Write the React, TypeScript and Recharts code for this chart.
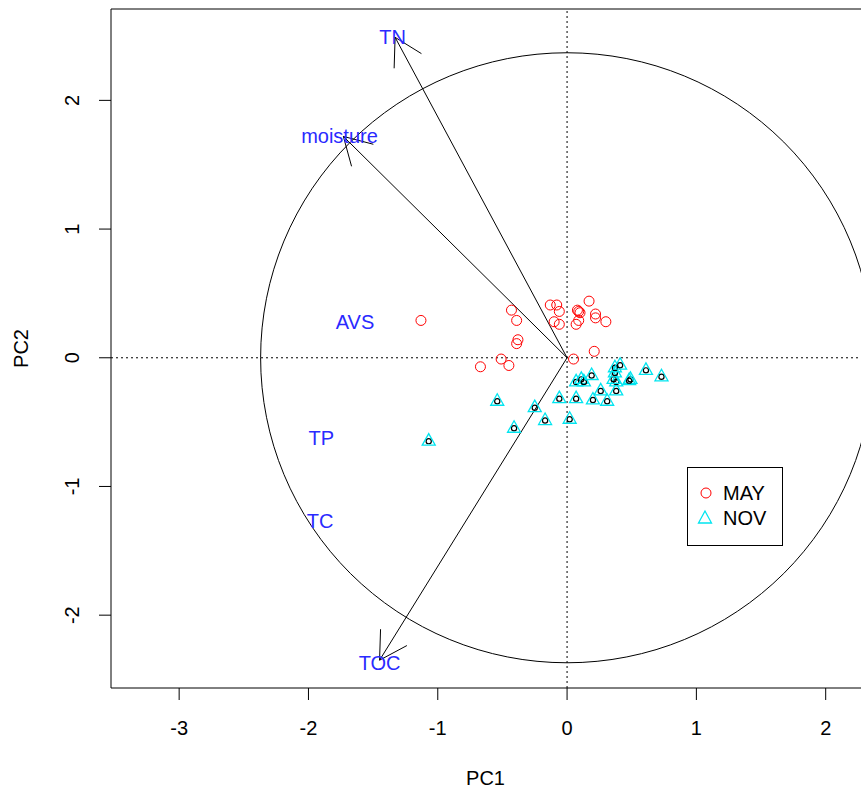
import {
  ReferenceDot,
  ReferenceLine,
  Scatter,
  ScatterChart,
  XAxis,
  YAxis,
} from "recharts";

// sample scores
const MAY_PC1 = [
  -1.13, -0.43, -0.39, -0.38, -0.39, -0.51, -0.67, -0.45, -0.13, -0.08, -0.06,
  -0.1, -0.06, 0.17, 0.08, 0.09, 0.1, 0.07, 0.09, 0.22, 0.22, 0.3, 0.21, 0.05,
];
const MAY_PC2 = [
  0.29, 0.37, 0.29, 0.14, 0.11, -0.01, -0.07, -0.06, 0.41, 0.41, 0.36, 0.28,
  0.26, 0.44, 0.37, 0.36, 0.35, 0.26, 0.29, 0.34, 0.31, 0.28, 0.05, -0.01,
];
const NOV_PC1 = [
  -1.07, -0.54, -0.25, -0.41, -0.17, -0.06, 0.02, 0.07, 0.11, 0.13, 0.19, 0.07,
  0.2, 0.26, 0.31, 0.38, 0.38, 0.36, 0.37, 0.37, 0.41, 0.49, 0.48, 0.61, 0.73,
];
const NOV_PC2 = [
  -0.64, -0.33, -0.38, -0.54, -0.48, -0.31, -0.47, -0.18, -0.16, -0.18, -0.13,
  -0.31, -0.32, -0.25, -0.33, -0.25, -0.18, -0.16, -0.11, -0.07, -0.05, -0.16,
  -0.17, -0.09, -0.14,
];

// variable arrows (tips) and label spots
const ARROW_NAMES = ["TN", "moisture", "TOC"];
const ARROW_PC1 = [-1.33, -1.73, -1.45];
const ARROW_PC2 = [2.49, 1.72, -2.35];
const LABEL_NAMES = ["TN", "moisture", "AVS", "TP", "TC", "TOC"];
const LABEL_PC1 = [-1.35, -1.76, -1.64, -1.9, -1.91, -1.45];
const LABEL_PC2 = [2.49, 1.72, 0.28, -0.62, -1.27, -2.37];

const CIRCLE_R = 2.37;
const X_TICKS = [-3, -2, -1, 0, 1, 2];
const Y_TICKS = [-2, -1, 0, 1, 2];

const XMIN = -3.527;
const XMAX = 2.273;
const YMIN = -2.566;
const YMAX = 2.71;

const W = 861;
const H = 796;
const LEFT = 111;
const TOP = 9;
const BOTTOM = 108;
const PLOT_W = W - LEFT;
const PLOT_H = H - TOP - BOTTOM;

const FONT = "'Liberation Sans', Arial, sans-serif";
const RED = "#FF0000";
const CYAN = "#00E5F0";
const BLUE = "#2a2aff";

const mayData = MAY_PC1.map((x, i) => ({ x, y: MAY_PC2[i] }));
const novData = NOV_PC1.map((x, i) => ({ x, y: NOV_PC2[i] }));
const labelData = LABEL_NAMES.map((name, i) => ({
  x: LABEL_PC1[i],
  y: LABEL_PC2[i],
  name,
}));

const Circle = (p: any) => (
  <circle cx={p.cx} cy={p.cy} r={5} stroke={RED} fill="none" strokeWidth={1} />
);

const Triangle = (p: any) => {
  const { cx, cy } = p;
  return (
    <g>
      <circle cx={cx} cy={cy + 1} r={2.6} stroke="#000" fill="none" strokeWidth={1.2} />
      <path
        d={`M${cx},${cy - 6.5} L${cx - 6.5},${cy + 5} L${cx + 6.5},${cy + 5} Z`}
        stroke={CYAN}
        strokeWidth={1.3}
        fill="none"
      />
    </g>
  );
};

const VarLabel = (p: any) => (
  <text
    x={p.cx}
    y={p.cy}
    textAnchor="middle"
    dominantBaseline="central"
    fill={BLUE}
    fontSize={20}
    fontFamily={FONT}
  >
    {p.payload.name}
  </text>
);

const Arrow = (p: any) => {
  const { x1, y1, x2, y2 } = p;
  const a = Math.atan2(y1 - y2, x1 - x2);
  const len = 31;
  const h = Math.PI / 6;
  return (
    <g stroke="#000" strokeWidth={1} fill="none">
      <line x1={x1} y1={y1} x2={x2} y2={y2} />
      <line x1={x2} y1={y2} x2={x2 + len * Math.cos(a + h)} y2={y2 + len * Math.sin(a + h)} />
      <line x1={x2} y1={y2} x2={x2 + len * Math.cos(a - h)} y2={y2 + len * Math.sin(a - h)} />
    </g>
  );
};

const CorCircle = (p: any) => (
  <ellipse
    cx={p.cx}
    cy={p.cy}
    rx={(CIRCLE_R * PLOT_W) / (XMAX - XMIN)}
    ry={(CIRCLE_R * PLOT_H) / (YMAX - YMIN)}
    stroke="#000"
    fill="none"
    strokeWidth={1}
  />
);

const XTick = (p: any) => (
  <text
    x={p.x}
    y={p.y}
    textAnchor="middle"
    dominantBaseline="central"
    fontSize={20}
    fontFamily={FONT}
    fill="#000"
  >
    {p.payload.value}
  </text>
);

const YTick = (p: any) => (
  <text
    x={p.x}
    y={p.y}
    transform={`rotate(-90 ${p.x} ${p.y})`}
    textAnchor="middle"
    dominantBaseline="central"
    fontSize={20}
    fontFamily={FONT}
    fill="#000"
  >
    {p.payload.value}
  </text>
);

// legend drawn as a plain box over the chart so it takes no plot space
const LegendBox = () => (
  <div
    style={{
      position: "absolute",
      left: 687,
      top: 467,
      width: 96,
      height: 79,
      boxSizing: "border-box",
      border: "1px solid #000",
      background: "#fff",
    }}
  >
    <svg width={96} height={79} style={{ position: "absolute", left: -1, top: -1 }}>
      <circle cx={19} cy={26} r={5} stroke={RED} fill="none" />
      <path d="M18,44 L11.5,56 L24.5,56 Z" stroke={CYAN} strokeWidth={1.3} fill="none" />
      <text x={36} y={26} dominantBaseline="central" fontSize={20} fontFamily={FONT}>
        MAY
      </text>
      <text x={36} y={51} dominantBaseline="central" fontSize={20} fontFamily={FONT}>
        NOV
      </text>
    </svg>
  </div>
);

export default function App() {
  return (
    <div style={{ position: "absolute", left: 0, top: 0, width: W, height: H, background: "#fff" }}>
      <ScatterChart width={W} height={H} margin={{ top: TOP, right: 0, bottom: 0, left: 0 }}>
        <XAxis
          type="number"
          dataKey="x"
          domain={[XMIN, XMAX]}
          ticks={X_TICKS}
          allowDataOverflow
          height={BOTTOM}
          tickSize={12}
          tickMargin={28}
          tick={<XTick />}
          stroke="#000"
          label={({ viewBox }: any) => (
            <text
              x={viewBox.x + viewBox.width / 2 - 0.5}
              y={viewBox.y + 90}
              textAnchor="middle"
              dominantBaseline="central"
              fontSize={20}
              fontFamily={FONT}
              fill="#000"
            >
              PC1
            </text>
          )}
        />
        <YAxis
          type="number"
          dataKey="y"
          domain={[YMIN, YMAX]}
          ticks={Y_TICKS}
          allowDataOverflow
          width={LEFT}
          tickSize={12}
          tickMargin={27}
          tick={<YTick />}
          stroke="#000"
          label={({ viewBox }: any) => (
            <text
              x={21}
              y={viewBox.y + viewBox.height / 2}
              transform={`rotate(-90 21 ${viewBox.y + viewBox.height / 2})`}
              textAnchor="middle"
              dominantBaseline="central"
              fontSize={20}
              fontFamily={FONT}
              fill="#000"
            >
              PC2
            </text>
          )}
        />
        <ReferenceLine y={YMAX} stroke="#000" />
        <ReferenceDot x={0} y={0} shape={<CorCircle />} />
        <ReferenceLine x={0} stroke="#000" strokeDasharray="2 3" />
        <ReferenceLine y={0} stroke="#000" strokeDasharray="2 3" />
        {ARROW_NAMES.map((n, i) => (
          <ReferenceLine
            key={n}
            segment={[
              { x: 0, y: 0 },
              { x: ARROW_PC1[i], y: ARROW_PC2[i] },
            ]}
            shape={<Arrow />}
          />
        ))}
        <Scatter name="MAY" data={mayData} shape={<Circle />} isAnimationActive={false} />
        <Scatter name="NOV" data={novData} shape={<Triangle />} isAnimationActive={false} />
        <Scatter name="labels" data={labelData} shape={<VarLabel />} isAnimationActive={false} />
      </ScatterChart>
      <LegendBox />
    </div>
  );
}
